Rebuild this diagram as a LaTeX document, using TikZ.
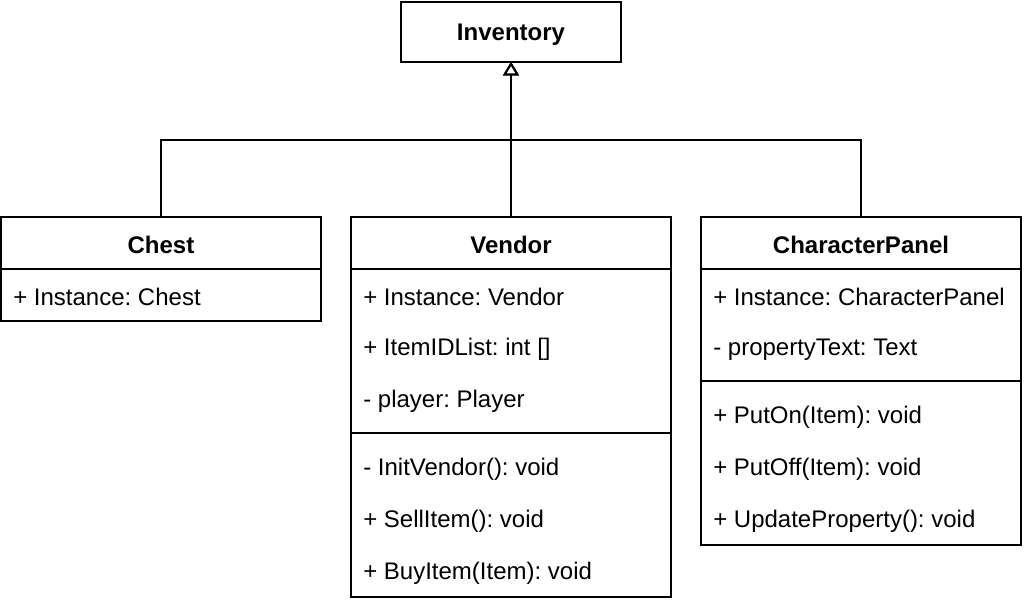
\documentclass[tikz,border=0pt]{standalone}
\usepackage{fontspec}
\setmainfont{Liberation Sans}
\usetikzlibrary{arrows.meta,calc}
\begin{document}
\frenchspacing
\begin{tikzpicture}[x=0.75pt,y=-0.75pt,
  every node/.style={font=\fontsize{18pt}{21pt}\selectfont},
  umlbox/.style={draw, line width=1.5pt, minimum width=240pt, inner sep=0pt, outer sep=0pt},
  header/.style={font=\fontsize{18pt}{21pt}\selectfont\bfseries, inner sep=0pt, yshift=-1.8pt},
  member/.style={anchor=west, inner sep=0pt, yshift=-1.8pt},
  divider/.style={line width=1.5pt},
  conn/.style={line width=1.5pt},
  inh/.style={conn, -{Triangle[fill=white, length=10pt, width=11.5pt, line width=1.5pt]}}
]
\useasboundingbox (0,0) rectangle (1024,604);

% Inventory
\node[draw, line width=1.5pt, minimum width=165pt, minimum height=45pt, inner sep=0pt, outer sep=0pt] (inv) at (511,32) {};
\node[header] (invT) at (511,32) {Inventory};

% Chest
\node[umlbox, minimum height=78pt] (chest) at (161,269) {};
\node[header] (chestT) at (161,243) {Chest};
\draw[divider] ($(chest.north west)+(0,52)$) -- ($(chest.north east)+(0,52)$);
\node[member] (c1) at (13,295) {+ Instance: Chest};

% Vendor
\node[umlbox, minimum height=285pt] (vendor) at (511,407) {};
\node[header] (vendorT) at (511,243) {Vendor};
\draw[divider] ($(vendor.north west)+(0,52)$) -- ($(vendor.north east)+(0,52)$);
\draw[divider] ($(vendor.north west)+(0,216)$) -- ($(vendor.north east)+(0,216)$);
\node[member] (v1) at (363,295) {+ Instance: Vendor};
\node[member] (v2) at (363,347) {+ ItemIDList: int []};
\node[member] (v3) at (363,399) {- player: Player};
\node[member] (v4) at (363,467) {- InitVendor(): void};
\node[member] (v5) at (363,519) {+ SellItem(): void};
\node[member] (v6) at (363,571) {+ BuyItem(Item): void};

% CharacterPanel
\node[umlbox, minimum height=246pt] (cpanel) at (861,381) {};
\node[header] (cpanelT) at (861,243) {CharacterPanel};
\draw[divider] ($(cpanel.north west)+(0,52)$) -- ($(cpanel.north east)+(0,52)$);
\draw[divider] ($(cpanel.north west)+(0,164)$) -- ($(cpanel.north east)+(0,164)$);
\node[member] (p1) at (713,295) {+ Instance: CharacterPanel};
\node[member] (p2) at (713,347) {- propertyText: Text};
\node[member] (p3) at (713,415) {+ PutOn(Item): void};
\node[member] (p4) at (713,467) {+ PutOff(Item): void};
\node[member] (p5) at (713,519) {+ UpdateProperty(): void};

% connectors
\coordinate (j) at (511,140);
\draw[inh] (vendor.north) -- (inv.south);
\draw[inh] (chest.north) |- (j) -- (inv.south);
\draw[inh] (cpanel.north) |- (j) -- (inv.south);
\end{tikzpicture}
\end{document}
